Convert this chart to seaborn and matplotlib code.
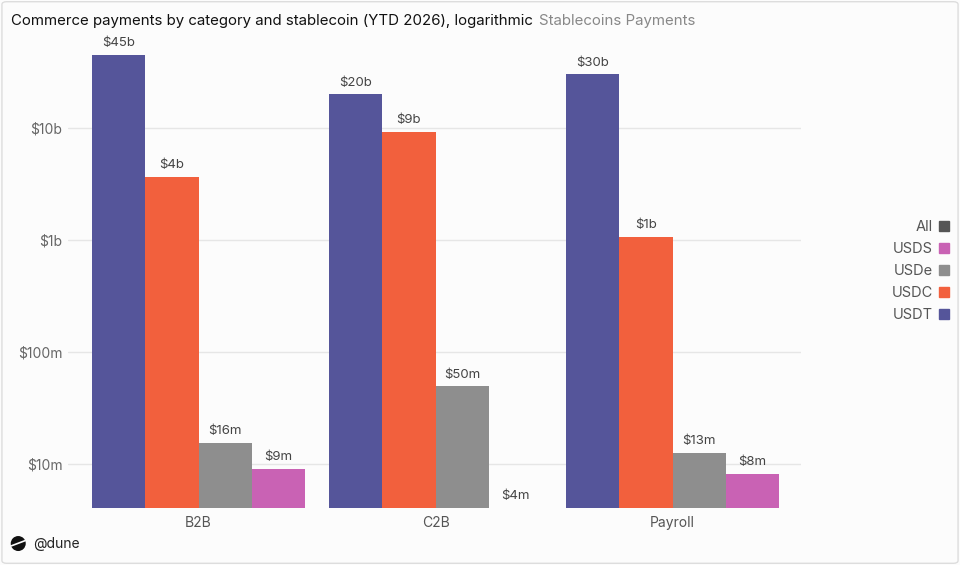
import numpy as np
import pandas as pd
import matplotlib
matplotlib.use("Agg")
import matplotlib.pyplot as plt
from matplotlib.lines import Line2D
from matplotlib.patches import Ellipse, FancyBboxPatch
import seaborn as sns

# data
categories = ["B2B", "C2B", "Payroll"]
coins = ["USDT", "USDC", "USDe", "USDS"]
usdt = [45e9, 20e9, 30e9]
usdc = [3.65e9, 9.2e9, 1.07e9]
usde = [15.6e6, 50e6, 12.7e6]
usds = [9.2e6, 4e6, 8.3e6]

palette = {"USDT": "#55559a", "USDC": "#f2603d", "USDe": "#8e8e8e", "USDS": "#c962b4"}
all_color = "#555555"

df = pd.DataFrame({
    "category": categories * 4,
    "coin": np.repeat(coins, 3),
    "value": usdt + usdc + usde + usds,
})


def fmt(v):
    if v >= 1e9:
        return f"${v / 1e9:.0f}b"
    return f"${v / 1e6:.0f}m"


sns.set_theme(style="white")
plt.rcParams["font.family"] = ["Inter", "DejaVu Sans"]

fig = plt.figure(figsize=(9.6, 5.65), dpi=100, facecolor="#fcfcfc")
ax = fig.add_axes([0.071, 0.101, 0.763, 0.83])
ax.set_facecolor("#fcfcfc")

sns.barplot(data=df, x="category", y="value", hue="coin", hue_order=coins,
            palette=palette, width=0.9, saturation=1, linewidth=0, ax=ax, legend=False)
ax.set_yscale("log")
ymin, ymax = 4.1e6, 6.2e10
ax.set_ylim(ymin, ymax)
ax.set_xlim(-0.55, 2.54)

# value labels (bars below the axis floor get the label at the floor)
for cont in ax.containers:
    for p in cont.patches:
        h = p.get_height()
        x = p.get_x() + p.get_width() / 2
        y = max(h, ymin)
        ax.annotate(fmt(h), (x, y), xytext=(0, 4), textcoords="offset points",
                    ha="center", va="bottom", fontsize=9.5, color="#444444")

ax.set_yticks([1e7, 1e8, 1e9, 1e10])
ax.set_yticklabels(["$10m", "$100m", "$1b", "$10b"])
ax.yaxis.set_minor_locator(matplotlib.ticker.NullLocator())
ax.tick_params(axis="y", colors="#666666", labelsize=10, length=0, pad=4)
ax.tick_params(axis="x", colors="#555555", labelsize=10, length=0, pad=6)
ax.grid(axis="y", color="#e6e6e6", linewidth=1)
ax.set_axisbelow(True)
for s in ax.spines.values():
    s.set_visible(False)
ax.set_xlabel("")
ax.set_ylabel("")

# title and subtitle
fig.text(0.011, 0.963, "Commerce payments by category and stablecoin (YTD 2026), logarithmic",
         fontsize=10.8, color="#111111", va="center")
fig.text(0.561, 0.963, "Stablecoins Payments", fontsize=10.8, color="#888888", va="center")

# legend
leg_labels = ["All", "USDS", "USDe", "USDC", "USDT"]
leg_colors = [all_color, palette["USDS"], palette["USDe"], palette["USDC"], palette["USDT"]]
handles = [Line2D([], [], marker="s", linestyle="", markersize=7.5, color=c) for c in leg_colors]
leg = fig.legend(handles, leg_labels, loc="center right", bbox_to_anchor=(1.003, 0.52),
                 frameon=False, markerfirst=False, fontsize=10.5, handletextpad=0.15,
                 handlelength=1.2, labelspacing=0.55, borderaxespad=0.3)
for t in leg.get_texts():
    t.set_color("#555555")
    t.set_ha("right")

# dune watermark
fig.patches.append(Ellipse((0.019, 0.038), 15 / 960, 15 / 565, transform=fig.transFigure,
                           facecolor="#111111", edgecolor="none", figure=fig))
fig.lines.append(Line2D([0.012, 0.026], [0.034, 0.043], transform=fig.transFigure,
                        color="#fcfcfc", linewidth=1.2, figure=fig))
fig.text(0.034, 0.038, "@dune", fontsize=10, color="#222222", va="center")

# frame
fig.patches.append(FancyBboxPatch((0.002, 0.003), 0.996, 0.994, boxstyle="round,pad=0,rounding_size=0.005",
                                  transform=fig.transFigure, facecolor="none",
                                  edgecolor="#dddddd", linewidth=1, figure=fig))

fig.savefig("out.png", dpi=100, facecolor=fig.get_facecolor())
